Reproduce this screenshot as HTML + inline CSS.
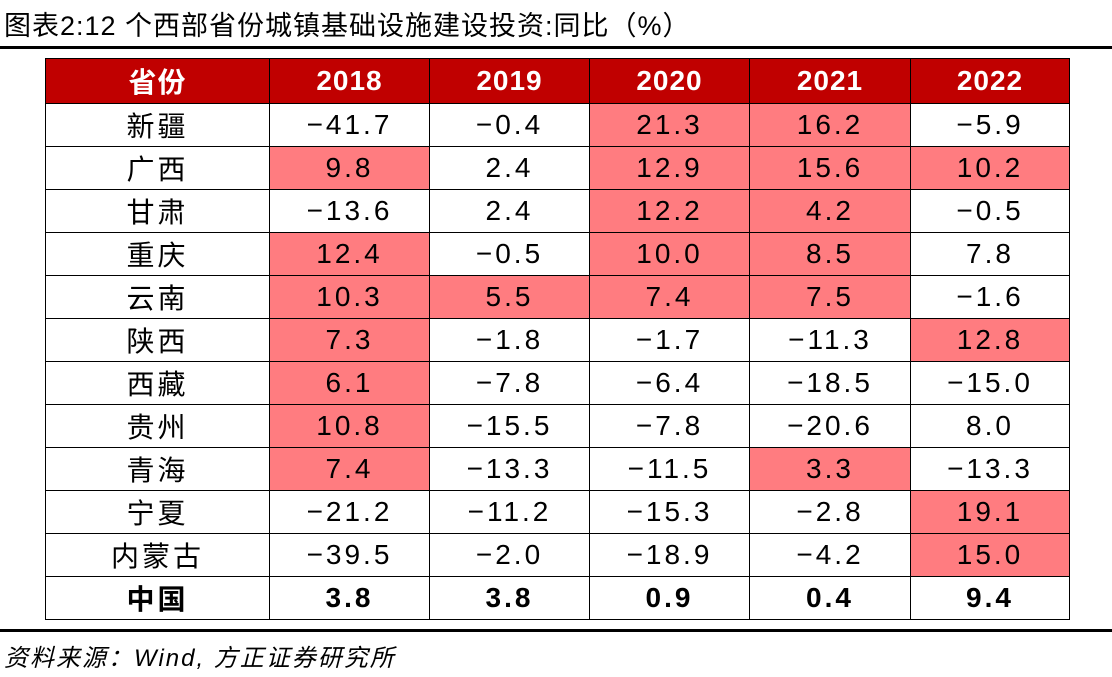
<!DOCTYPE html>
<html><head><meta charset="utf-8"><style>
body{margin:0;width:1112px;height:677px;background:#fff;overflow:hidden;font-family:"Liberation Sans","Noto Sans CJK SC",sans-serif;position:relative}
#title{position:absolute;left:4px;top:4px;font-size:27px;color:#000;white-space:nowrap;letter-spacing:1px}
.hl{position:absolute;left:0;width:1112px;background:#000}
table{position:absolute;left:45px;top:58px;border-collapse:collapse;table-layout:fixed}
td,th{border:1.5px solid #000;text-align:center;padding:0;height:42px;font-size:28px;font-weight:normal;letter-spacing:3px;white-space:nowrap}
th{background:#c00000;color:#fff;font-weight:bold;height:44px;letter-spacing:1px}
td.pos{background:#ff7c80}
tr.total td{font-weight:bold}
#src{position:absolute;left:4px;top:638px;font-size:24px;font-style:italic;letter-spacing:2px}
</style></head><body>
<div id="title">图表2:12 个西部省份城镇基础设施建设投资:同比（%）</div>
<div class="hl" style="top:46px;height:3px"></div>
<table id="tbl"></table>
<div class="hl" style="top:629px;height:3px"></div>
<div id="src">资料来源：Wind, 方正证券研究所</div>
<script>
const years=["2018","2019","2020","2021","2022"];
const provinces=["新疆","广西","甘肃","重庆","云南","陕西","西藏","贵州","青海","宁夏","内蒙古","中国"];
const v2018=[-41.7,9.8,-13.6,12.4,10.3,7.3,6.1,10.8,7.4,-21.2,-39.5,3.8];
const v2019=[-0.4,2.4,2.4,-0.5,5.5,-1.8,-7.8,-15.5,-13.3,-11.2,-2.0,3.8];
const v2020=[21.3,12.9,12.2,10.0,7.4,-1.7,-6.4,-7.8,-11.5,-15.3,-18.9,0.9];
const v2021=[16.2,15.6,4.2,8.5,7.5,-11.3,-18.5,-20.6,3.3,-2.8,-4.2,0.4];
const v2022=[-5.9,10.2,-0.5,7.8,-1.6,12.8,-15.0,8.0,-13.3,19.1,15.0,9.4];
const series=[v2018,v2019,v2020,v2021,v2022];
const colW=[223,159,159,159,160,158];
const tbl=document.getElementById('tbl');
const hr=document.createElement('tr');


["省份"].concat(years).forEach((h,i)=>{
  const th=document.createElement('th');
  
  
  th.style.width=colW[i]+'px';
  th.textContent=h;hr.appendChild(th);
});
tbl.appendChild(hr);
provinces.forEach((p,r)=>{
  const tr=document.createElement('tr');
  
  
  const last=r===provinces.length-1;
  if(last)tr.className='total';
  const td0=document.createElement('td');
  
  
  td0.textContent=p;tr.appendChild(td0);
  series.forEach((s,c)=>{
    const td=document.createElement('td');
    
    
    const v=s[r];
    if(!last && v>s[provinces.length-1]) td.className='pos';
    td.textContent=(v<0?'−':'')+Math.abs(v).toFixed(1);
    tr.appendChild(td);
  });
  tbl.appendChild(tr);
});
</script>
</body></html>
